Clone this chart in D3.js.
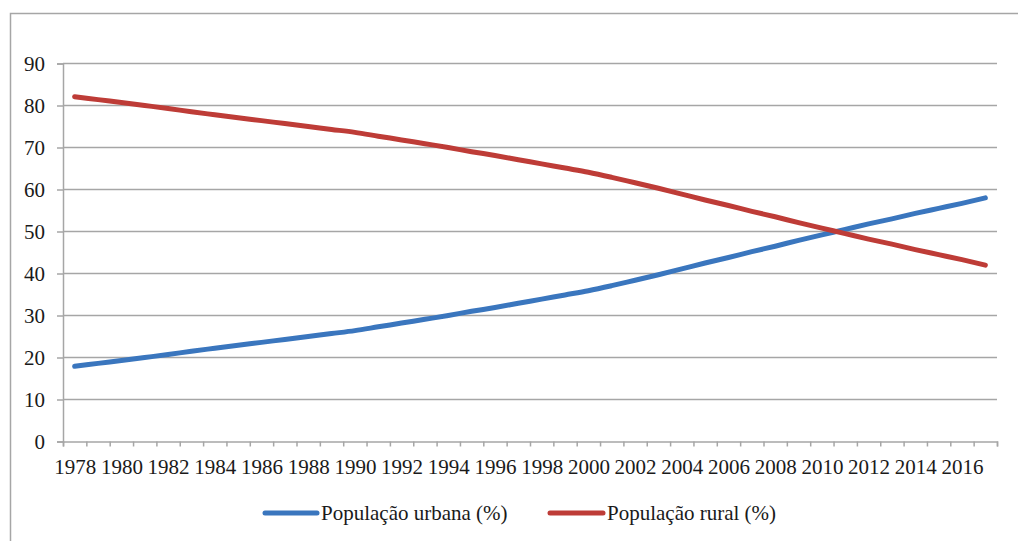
<!DOCTYPE html>
<html>
<head>
<meta charset="utf-8">
<script src="https://cdn.jsdelivr.net/npm/d3@7"></script>
<style>
  html, body { margin: 0; padding: 0; background: #fff; }
  svg { display: block; font-family: "Liberation Serif", "Times New Roman", serif; }
</style>
</head>
<body>
<svg id="chart" width="1018" height="541"></svg>
<script>
// Years on the category axis
const years = d3.range(1978, 2018);

// Urban population share (%) per year
const urbanPct = [
  17.9, 18.6, 19.3, 20.0, 20.7, 21.5, 22.2, 22.9, 23.6, 24.3,
  25.0, 25.7, 26.4, 27.3, 28.2, 29.1, 30.0, 31.0, 31.9, 32.9,
  33.9, 34.9, 35.9, 37.1, 38.4, 39.7, 41.1, 42.5, 43.8, 45.2,
  46.5, 47.9, 49.2, 50.5, 51.8, 53.0, 54.3, 55.5, 56.7, 58.0
];

// Rural population share (%) per year
const ruralPct = [
  82.1, 81.4, 80.7, 80.0, 79.3, 78.5, 77.8, 77.1, 76.4, 75.7,
  75.0, 74.3, 73.6, 72.7, 71.8, 70.9, 70.0, 69.0, 68.1, 67.1,
  66.1, 65.1, 64.1, 62.9, 61.6, 60.3, 58.9, 57.5, 56.2, 54.8,
  53.5, 52.1, 50.8, 49.5, 48.2, 47.0, 45.7, 44.5, 43.3, 42.0
];

const yTicks = [0, 10, 20, 30, 40, 50, 60, 70, 80, 90];
const seriesNames = ["População urbana (%)", "População rural (%)"];
const seriesColors = ["#3A76BE", "#BE3C37"];

const svg = d3.select("#chart");
const gridColor = "#A6A6A6";
const textColor = "#1a1a1a";
const fontFamily = "'Liberation Serif', 'Times New Roman', serif";
const fontSize = 21;

const plot = { left: 63, right: 997, top: 63.5, bottom: 441.5 };

// Outer frame
svg.append("rect")
  .attr("x", 10.5).attr("y", 13.5)
  .attr("width", 1030).attr("height", 560)
  .attr("fill", "none").attr("stroke", gridColor).attr("stroke-width", 1.5);

// Scales: each year occupies one band, boundaries at half years
const x = d3.scaleLinear()
  .domain([years[0] - 0.5, years[years.length - 1] + 0.5])
  .range([plot.left, plot.right]);
const y = d3.scaleLinear().domain([0, 90]).range([plot.bottom, plot.top]);

// Horizontal gridlines
svg.append("g")
  .selectAll("line")
  .data(yTicks.filter(d => d > 0))
  .join("line")
  .attr("x1", plot.left).attr("x2", plot.right)
  .attr("y1", d => y(d)).attr("y2", d => y(d))
  .attr("stroke", gridColor).attr("stroke-width", 1.5);

// Left axis
const yAxis = svg.append("g")
  .attr("transform", `translate(${plot.left},0)`)
  .call(d3.axisLeft(y).tickValues(yTicks).tickSize(6).tickPadding(12));
yAxis.attr("font-family", null);
yAxis.select(".domain").attr("stroke", gridColor).attr("stroke-width", 1.5);
yAxis.selectAll(".tick line").attr("stroke", gridColor).attr("stroke-width", 1.5);
yAxis.selectAll(".tick text")
  .style("font-family", fontFamily).attr("font-size", fontSize)
  .attr("fill", textColor);

// Bottom axis: tick marks at category boundaries
const boundaries = d3.range(years[0] - 0.5, years[years.length - 1] + 1, 1);
const xAxisTicks = svg.append("g")
  .attr("transform", `translate(0,${plot.bottom})`)
  .call(d3.axisBottom(x).tickValues(boundaries).tickSize(5).tickFormat(""));
xAxisTicks.select(".domain").attr("stroke", gridColor).attr("stroke-width", 1.5);
xAxisTicks.selectAll(".tick line").attr("stroke", gridColor).attr("stroke-width", 1.5);

// Bottom axis labels: every second year, centred on its category
const xAxisLabels = svg.append("g")
  .attr("transform", `translate(0,${plot.bottom})`)
  .call(d3.axisBottom(x).tickValues(years.filter(d => d % 2 === 0))
    .tickSize(0).tickPadding(18).tickFormat(d3.format("d")));
xAxisLabels.attr("font-family", null);
xAxisLabels.select(".domain").remove();
xAxisLabels.selectAll(".tick text")
  .style("font-family", fontFamily).attr("font-size", fontSize)
  .attr("fill", textColor);

// Smoothed series lines
const line = d3.line()
  .x((d, i) => x(years[i]))
  .y(d => y(d))
  .curve(d3.curveCatmullRom.alpha(0.5));

[urbanPct, ruralPct].forEach((vals, k) => {
  svg.append("path")
    .datum(vals)
    .attr("d", line)
    .attr("fill", "none")
    .attr("stroke", seriesColors[k])
    .attr("stroke-width", 5)
    .attr("stroke-linecap", "round")
    .attr("stroke-linejoin", "round");
});

// Legend
const legendY = 513;
const legendItems = [
  { x1: 265, x2: 317, tx: 321 },
  { x1: 550, x2: 603, tx: 607 }
];
legendItems.forEach((it, k) => {
  svg.append("line")
    .attr("x1", it.x1).attr("x2", it.x2)
    .attr("y1", legendY).attr("y2", legendY)
    .attr("stroke", seriesColors[k]).attr("stroke-width", 5)
    .attr("stroke-linecap", "round");
  svg.append("text")
    .attr("x", it.tx).attr("y", legendY)
    .attr("dy", "0.35em")
    .style("font-family", fontFamily)
    .attr("font-size", fontSize)
    .attr("fill", textColor)
    .text(seriesNames[k]);
});
</script>
</body>
</html>
